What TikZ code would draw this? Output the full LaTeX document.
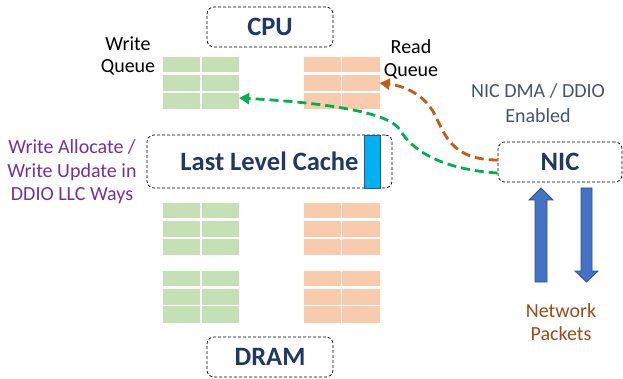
\documentclass[tikz,border=0pt]{standalone}
\usepackage{fontspec}
\setmainfont{Carlito}
\usetikzlibrary{arrows.meta,calc}
\definecolor{TitleClr}{HTML}{1F3864}
\definecolor{WriteClr}{HTML}{C5E0B4}
\definecolor{ReadClr}{HTML}{F8CBAD}
\definecolor{DdioClr}{HTML}{00B0F0}
\definecolor{EdgeClr}{HTML}{2F528F}
\definecolor{PktClr}{HTML}{4472C4}
\definecolor{GreenDmaClr}{HTML}{00B050}
\definecolor{OrangeDmaClr}{HTML}{C55A11}
\definecolor{NoteClr}{HTML}{44546A}
\definecolor{AllocClr}{HTML}{7030A0}
\definecolor{NetClr}{HTML}{9C4B17}

\begin{document}
\begin{tikzpicture}[x=1pt,y=-1pt,
  unitbox/.style={draw=black,densely dashed,line width=0.7pt,rounded corners=7pt,
    minimum height=40pt,inner sep=0pt,font=\fontsize{26.5}{30}\selectfont\bfseries,text=TitleClr},
  queue/.style={minimum width=76pt,minimum height=52pt,inner sep=0pt},
  txt/.style={align=center,inner sep=0pt,font=\fontsize{20}{22}\selectfont},
  dma/.style={line width=2.8pt,dash pattern=on 9pt off 5pt,-{Triangle[length=10pt,width=11pt]}},
  packet/.style={fill=PktClr,draw=EdgeClr,line width=0.8pt}]

\useasboundingbox (0,0) rectangle (623,379);

\node[unitbox,minimum width=126pt] (cpu) at (270,27) {CPU};
\node[unitbox,minimum width=126pt] (dram) at (270,357) {DRAM};
\node[unitbox,minimum width=245pt,minimum height=53pt] (llc) at (269.5,161.5) {Last Level Cache};
\node[fill=DdioClr,draw=EdgeClr,line width=0.8pt,minimum width=16pt,minimum height=53pt,inner sep=0pt] (ddio) at (372,161.5) {};
\node[unitbox,minimum width=124pt] (nic) at (560,162) {NIC};

\foreach \name/\x/\y/\clr in {wq1/201/83/WriteClr,rq1/341.5/83/ReadClr,
  wq2/201/229/WriteClr,rq2/341.5/229/ReadClr,wq3/201/296.5/WriteClr,rq3/341.5/296.5/ReadClr}{
  \node[queue,fill=\clr] (\name) at (\x,\y) {};
  \draw[white,line width=1.5pt] (\name.north) -- (\name.south);
  \draw[white,line width=3pt] ($(\name.west)+(0,-9)$) -- ($(\name.east)+(0,-9)$);
  \draw[white,line width=1.5pt] ($(\name.west)+(0,9)$) -- ($(\name.east)+(0,9)$);
}

\node[txt] (wlabel) at (128,56) {Write\\Queue};
\node[txt,font=\fontsize{20}{23}\selectfont] (rlabel) at (411,59) {Read\\Queue};
\node[txt,text=NoteClr,font=\fontsize{20}{25}\selectfont] (dmalabel) at (538,103) {NIC DMA / DDIO\\Enabled};
\node[txt,text=AllocClr,font=\fontsize{20}{23.5}\selectfont] (alloc) at (72,172) {Write Allocate /\\Write Update in\\DDIO LLC Ways};
\node[txt,text=NetClr,font=\fontsize{20}{23.5}\selectfont] (netlabel) at (561,322) {Network\\Packets};

\draw[dma,OrangeDmaClr] ([yshift=2pt]nic.west) .. controls (452,160) and (445,135) .. (435,115)
  .. controls (425,95) and (405,86) .. (rq1.east);
\draw[dma,GreenDmaClr] ([yshift=-11pt]nic.west) .. controls (450,170) and (415,155) .. (400,130)
  .. controls (390,113) and (330,103) .. ([yshift=-15pt]wq1.east);

\filldraw[packet] (535,282) -- (535,200) -- (529,200) -- (541,188) -- (553,200) -- (547,200) -- (547,282) -- cycle;
\filldraw[packet] (581,188) -- (581,271) -- (575,271) -- (586.5,282) -- (598,271) -- (592,271) -- (592,188) -- cycle;

\end{tikzpicture}
\end{document}
